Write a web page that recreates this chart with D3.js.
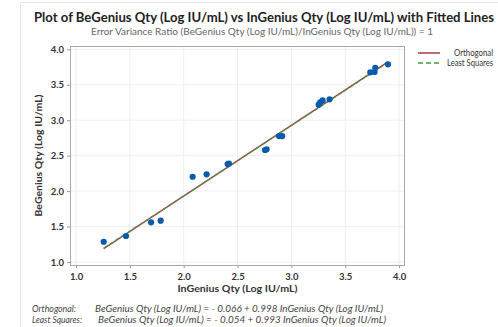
<!DOCTYPE html>
<html lang="en">
<head>
<meta charset="UTF-8">
<title>BeGenius vs InGenius Fitted Lines</title>
<style>
    body { margin: 0; padding: 0; background: #fff; font-family: Lato, "Open Sans", sans-serif; }
    svg { display: block; }
</style>
</head>
<body>
<div id="chart"></div>
<script src="https://d3js.org/d3.v7.min.js"></script>
<script>
    // data
    var inGenius = [1.257, 1.464, 1.697, 1.786, 2.083, 2.213, 2.408, 2.42, 2.755, 2.77, 2.885, 2.915,
                    3.253, 3.268, 3.29, 3.355, 3.733, 3.773, 3.779, 3.897];
    var beGenius = [1.286, 1.367, 1.56, 1.583, 2.203, 2.237, 2.382, 2.39, 2.58, 2.59, 2.777, 2.777,
                    3.219, 3.252, 3.28, 3.295, 3.676, 3.68, 3.74, 3.788];
    var xTicks = [1.0, 1.5, 2.0, 2.5, 3.0, 3.5, 4.0];
    var yTicks = [1.0, 1.5, 2.0, 2.5, 3.0, 3.5, 4.0];
    var fitNames = ["Orthogonal", "Least Squares"];
    var fitIntercepts = [-0.066, -0.054];
    var fitSlopes = [0.998, 0.993];
    var fitColors = ["#b03a3f", "#3a9a44"];

    var W = 498, H = 327;
    var box = { left: 70, right: 404, top: 46, bottom: 265 };

    var svg = d3.select("#chart").append("svg")
        .attr("width", W).attr("height", H)
        .style("font-family", "Lato, 'Open Sans', sans-serif");

    // outer frame of the graph window
    svg.append("rect")
        .attr("x", 20.5).attr("y", 2.5)
        .attr("width", W).attr("height", H)
        .attr("fill", "none").attr("stroke", "#e4e4e4");

    var x = d3.scaleLinear().domain([0.944, 4.046]).range([box.left, box.right]);
    var y = d3.scaleLinear().domain([0.958, 4.047]).range([box.bottom, box.top]);

    // gridlines
    svg.append("g").selectAll("line").data(xTicks).enter().append("line")
        .attr("x1", d => x(d)).attr("x2", d => x(d))
        .attr("y1", box.top).attr("y2", box.bottom)
        .attr("stroke", "#efefef");
    svg.append("g").selectAll("line").data(yTicks).enter().append("line")
        .attr("x1", box.left).attr("x2", box.right)
        .attr("y1", d => y(d)).attr("y2", d => y(d))
        .attr("stroke", "#efefef");

    // axes
    var xAxis = svg.append("g")
        .attr("transform", "translate(0," + box.bottom + ")")
        .call(d3.axisBottom(x).tickValues(xTicks).tickFormat(d3.format(".1f")).tickSize(3).tickSizeOuter(0));
    var yAxis = svg.append("g")
        .attr("transform", "translate(" + box.left + ",0)")
        .call(d3.axisLeft(y).tickValues(yTicks).tickFormat(d3.format(".1f")).tickSize(3).tickSizeOuter(0));
    [xAxis, yAxis].forEach(function(a) {
        a.select(".domain").remove();
        a.selectAll("line").attr("stroke", "#9a9a9a");
        a.selectAll("text")
            .attr("fill", "#333")
            .style("font-family", "Lato, sans-serif")
            .style("font-size", "9.5px")
            .style("font-weight", "700");
    });
    xAxis.selectAll("text").attr("dy", "0.95em");

    // plot box
    svg.append("rect")
        .attr("x", box.left + 0.5).attr("y", box.top + 0.5)
        .attr("width", box.right - box.left).attr("height", box.bottom - box.top)
        .attr("fill", "none").attr("stroke", "#a8a8a8");

    // fitted lines over the range of the data
    var xr = d3.extent(inGenius);
    fitNames.forEach(function(name, i) {
        svg.append("line")
            .attr("x1", x(xr[0])).attr("y1", y(fitIntercepts[i] + fitSlopes[i] * xr[0]))
            .attr("x2", x(xr[1])).attr("y2", y(fitIntercepts[i] + fitSlopes[i] * xr[1]))
            .attr("stroke", fitColors[i])
            .attr("stroke-width", 1.3)
            .attr("stroke-dasharray", i === 1 ? "4,3" : null);
    });

    // points
    svg.append("g").selectAll("circle")
        .data(inGenius.map((v, i) => [v, beGenius[i]]))
        .enter().append("circle")
        .attr("cx", d => x(d[0])).attr("cy", d => y(d[1]))
        .attr("r", 3.1)
        .attr("fill", "#0b5aab");

    // titles
    svg.append("text")
        .attr("x", 264).attr("y", 22)
        .attr("text-anchor", "middle")
        .attr("textLength", 460).attr("lengthAdjust", "spacingAndGlyphs")
        .style("font-size", "12.8px").style("font-weight", "700")
        .attr("fill", "#222")
        .text("Plot of BeGenius Qty (Log IU/mL) vs InGenius Qty (Log IU/mL) with Fitted Lines");
    svg.append("text")
        .attr("x", 262).attr("y", 35)
        .attr("text-anchor", "middle")
        .attr("textLength", 342).attr("lengthAdjust", "spacingAndGlyphs")
        .style("font-size", "10px")
        .attr("fill", "#666")
        .text("Error Variance Ratio (BeGenius Qty (Log IU/mL)/InGenius Qty (Log IU/mL)) = 1");

    // axis labels
    svg.append("text")
        .attr("x", 237.5).attr("y", 292)
        .attr("text-anchor", "middle")
        .attr("textLength", 120).attr("lengthAdjust", "spacingAndGlyphs")
        .style("font-size", "10px").style("font-weight", "700")
        .attr("fill", "#333")
        .text("InGenius Qty (Log IU/mL)");
    svg.append("text")
        .attr("transform", "translate(42," + ((box.top + box.bottom) / 2) + ") rotate(-90)")
        .attr("text-anchor", "middle")
        .attr("textLength", 122).attr("lengthAdjust", "spacingAndGlyphs")
        .style("font-size", "10px").style("font-weight", "700")
        .attr("fill", "#333")
        .text("BeGenius Qty (Log IU/mL)");

    // legend
    var legendWidths = [39, 46];
    var legend = svg.append("g");
    fitNames.forEach(function(name, i) {
        var ly = 53 + i * 10;
        legend.append("line")
            .attr("x1", 418).attr("x2", 440).attr("y1", ly).attr("y2", ly)
            .attr("stroke", fitColors[i]).attr("stroke-width", 1.5)
            .attr("stroke-dasharray", i === 1 ? "5,3" : null);
        legend.append("text")
            .attr("x", 493).attr("y", ly).attr("dy", "0.35em")
            .attr("text-anchor", "end")
            .attr("textLength", legendWidths[i]).attr("lengthAdjust", "spacingAndGlyphs")
            .style("font-size", "8.5px")
            .attr("fill", "#333")
            .text(name);
    });

    // fitted equations
    var eqLabels = ["Orthogonal:", "Least Squares:"];
    var labelWidths = [44, 50];
    var eqStarts = [95, 98];
    eqLabels.forEach(function(lab, i) {
        var ty = 312 + i * 11;
        svg.append("text")
            .attr("x", 32).attr("y", ty)
            .attr("textLength", labelWidths[i]).attr("lengthAdjust", "spacingAndGlyphs")
            .style("font-size", "10px").style("font-style", "italic")
            .attr("fill", "#444")
            .text(lab);
        var b = fitIntercepts[i];
        svg.append("text")
            .attr("x", eqStarts[i]).attr("y", ty)
            .attr("textLength", 288).attr("lengthAdjust", "spacingAndGlyphs")
            .style("font-size", "10px").style("font-style", "italic")
            .attr("fill", "#444")
            .text("BeGenius Qty (Log IU/mL) = " + (b < 0 ? "- " : "") + d3.format(".3f")(Math.abs(b)) +
                  " + " + d3.format(".3f")(fitSlopes[i]) + " InGenius Qty (Log IU/mL)");
    });
</script>
</body>
</html>
